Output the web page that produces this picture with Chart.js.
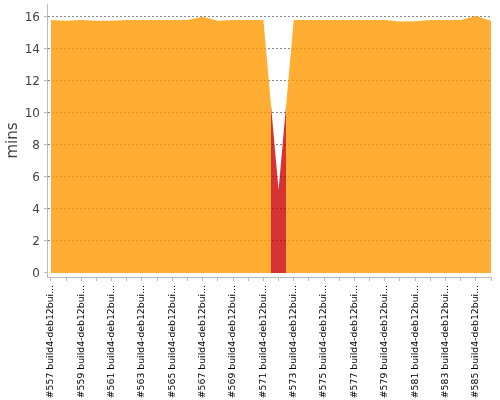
<!DOCTYPE html>
<html><head><meta charset="utf-8">
<script src="https://cdn.jsdelivr.net/npm/chart.js@4.4.1/dist/chart.umd.min.js"></script>
<style>html,body{margin:0;padding:0;background:#fff}</style>
</head><body>
<canvas id="c" width="500" height="400"></canvas>
<script>
const builds = [
  '#557 build4-deb12bui...', '#558 build4-deb12bui...', '#559 build4-deb12bui...', '#560 build4-deb12bui...',
  '#561 build4-deb12bui...', '#562 build4-deb12bui...', '#563 build4-deb12bui...', '#564 build4-deb12bui...',
  '#565 build4-deb12bui...', '#566 build4-deb12bui...', '#567 build4-deb12bui...', '#568 build4-deb12bui...',
  '#569 build4-deb12bui...', '#570 build4-deb12bui...', '#571 build4-deb12bui...', '#572 build4-deb12bui...',
  '#573 build4-deb12bui...', '#574 build4-deb12bui...', '#575 build4-deb12bui...', '#576 build4-deb12bui...',
  '#577 build4-deb12bui...', '#578 build4-deb12bui...', '#579 build4-deb12bui...', '#580 build4-deb12bui...',
  '#581 build4-deb12bui...', '#582 build4-deb12bui...', '#583 build4-deb12bui...', '#584 build4-deb12bui...',
  '#585 build4-deb12bui...', '#586 build4-deb12bui...'
];
const durations = [
  15.8, 15.75, 15.8, 15.75, 15.75, 15.8, 15.8, 15.8, 15.8, 15.8,
  16.0, 15.75, 15.8, 15.8, 15.8, 5.2, 15.8, 15.8, 15.8, 15.8,
  15.8, 15.8, 15.8, 15.7, 15.72, 15.8, 15.8, 15.8, 16.05, 15.75
];
const results = [
  'SUCCESS','SUCCESS','SUCCESS','SUCCESS','SUCCESS','SUCCESS','SUCCESS','SUCCESS','SUCCESS','SUCCESS',
  'SUCCESS','SUCCESS','SUCCESS','SUCCESS','SUCCESS','FAILURE','SUCCESS','SUCCESS','SUCCESS','SUCCESS',
  'SUCCESS','SUCCESS','SUCCESS','SUCCESS','SUCCESS','SUCCESS','SUCCESS','SUCCESS','SUCCESS','SUCCESS'
];
const yTicks = [0, 2, 4, 6, 8, 10, 12, 14, 16];
const yTitle = 'mins';

const colors = { SUCCESS: 'rgba(255,153,0,0.8)', FAILURE: 'rgba(204,0,0,0.8)' };

function areaFill(context) {
  const chart = context.chart;
  const area = chart.chartArea;
  const xs = chart.scales && chart.scales.x;
  if (!area || !xs || !xs.width) return colors.SUCCESS;
  const w = area.right - area.left;
  const g = chart.ctx.createLinearGradient(area.left, 0, area.right, 0);
  const pos = v => Math.min(1, Math.max(0, (xs.getPixelForValue(v) - area.left) / w));
  g.addColorStop(0, colors[results[0]]);
  results.forEach((r, i) => {
    g.addColorStop(pos(i - 0.5), colors[r]);
    g.addColorStop(pos(i + 0.5), colors[r]);
  });
  g.addColorStop(1, colors[results[results.length - 1]]);
  return g;
}

new Chart(document.getElementById('c'), {
  type: 'line',
  data: {
    datasets: [{
      data: durations.map((v, i) => ({ x: i, y: v })),
      fill: 'origin',
      backgroundColor: areaFill,
      borderWidth: 0,
      pointRadius: 0,
      tension: 0
    }]
  },
  options: {
    responsive: false,
    animation: false,
    layout: { padding: { top: 4, right: 9, left: 0, bottom: 0 } },
    plugins: { legend: { display: false }, tooltip: { enabled: false } },
    scales: {
      x: {
        type: 'linear',
        min: -0.26,
        max: builds.length - 1,
        afterBuildTicks: s => { s.ticks = builds.map((b, i) => ({ value: i })); },
        afterFit: s => { s.height = 123; s.paddingLeft = 0; s.paddingRight = 0; },
        grid: { drawOnChartArea: false, drawTicks: true, tickLength: 4, tickColor: '#bbb' },
        border: { display: true, color: '#bbb', width: 1 },
        ticks: {
          autoSkip: false, minRotation: 90, maxRotation: 90, padding: 4,
          color: '#000', font: { family: 'DejaVu Sans', size: 9.3 },
          callback: (v, idx) => (idx % 2 === 0 ? builds[v] : '')
        }
      },
      y: {
        min: -0.25,
        max: 16.8,
        afterBuildTicks: s => { s.ticks = yTicks.map(v => ({ value: v })); },
        afterFit: s => { s.width = 47; s.paddingTop = 0; s.paddingBottom = 0; },
        grid: {
          color: c => (c.tick && c.tick.value === 0 ? 'rgba(0,0,0,0)' : '#888'),
          tickColor: '#bbb', tickLength: 3, lineWidth: 1
        },
        border: { display: true, color: '#bbb', width: 1, dash: [2, 2] },
        ticks: { padding: 4, labelOffset: 1, color: '#444', font: { family: 'DejaVu Sans', size: 12 } },
        title: { display: true, text: yTitle, color: '#444', font: { family: 'DejaVu Sans', size: 15 }, padding: { top: 4, bottom: 0 } }
      }
    }
  }
});
</script>
</body></html>
